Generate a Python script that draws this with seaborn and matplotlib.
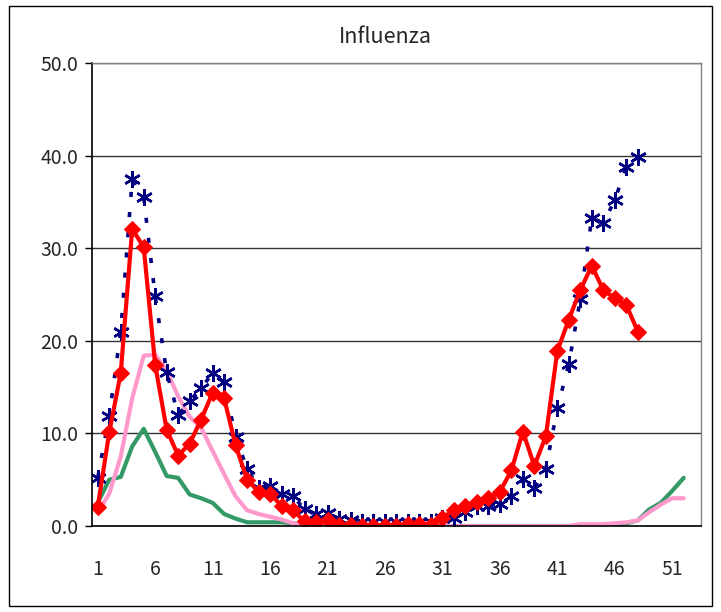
import numpy as np
import pandas as pd
import matplotlib
matplotlib.use("Agg")
import matplotlib.pyplot as plt
from matplotlib.patches import Rectangle
import seaborn as sns

# weekly values
weeks = list(range(1, 53))

blue_vals = [5.2, 11.9, 21.0, 37.5, 35.5, 24.8, 16.6, 12.0, 13.5, 14.9,
             16.5, 15.5, 9.6, 6.2, 4.1, 4.3, 3.5, 3.2, 1.8, 1.3,
             1.4, 0.8, 0.6, 0.4, 0.4, 0.4, 0.4, 0.4, 0.4, 0.4,
             0.9, 0.9, 1.5, 2.2, 2.2, 2.4, 3.2, 5.1, 4.1, 6.2,
             12.7, 17.5, 24.5, 33.3, 32.7, 35.2, 38.8, 39.8]

red_vals = [2.1, 10.1, 16.5, 32.1, 30.1, 17.4, 10.4, 7.6, 8.9, 11.5,
            14.4, 13.8, 8.7, 5.0, 3.7, 3.45, 2.2, 1.7, 0.5, 0.4,
            0.6, 0.1, 0.1, 0.05, 0.05, 0.05, 0.05, 0.2, 0.2, 0.1,
            0.9, 1.7, 2.2, 2.6, 3.0, 3.7, 6.0, 10.2, 6.5, 9.7,
            18.9, 22.3, 25.5, 28.1, 25.5, 24.6, 23.9, 21.0]

pink_vals = [1.4, 3.5, 7.5, 13.8, 18.4, 18.5, 16.8, 14.0, 11.8, 10.6,
             8.1, 5.6, 3.2, 1.7, 1.3, 1.0, 0.7, 0.3, 0.1, 0.0,
             0.0, 0.0, 0.0, 0.0, 0.0, 0.0, 0.0, 0.0, 0.0, 0.0,
             0.0, 0.0, 0.0, 0.0, 0.0, 0.0, 0.0, 0.0, 0.0, 0.0,
             0.0, 0.0, 0.2, 0.2, 0.2, 0.3, 0.4, 0.6, 1.5, 2.3,
             3.0, 3.0]

green_vals = [2.5, 5.0, 5.3, 8.6, 10.5, 8.0, 5.4, 5.2, 3.4, 3.0,
              2.5, 1.3, 0.8, 0.4, 0.4, 0.4, 0.4, 0.3, 0.1, 0.0,
              0.0, 0.0, 0.0, 0.0, 0.0, 0.0, 0.0, 0.0, 0.0, 0.0,
              0.0, 0.0, 0.0, 0.0, 0.0, 0.0, 0.0, 0.0, 0.0, 0.0,
              0.0, 0.0, 0.0, 0.0, 0.0, 0.2, 0.3, 0.6, 1.8, 2.5,
              3.8, 5.2]

x_labels = [1, 6, 11, 16, 21, 26, 31, 36, 41, 46, 51]
y_ticks = [0, 10, 20, 30, 40, 50]

sns.set_style("white")
plt.rcParams['font.family'] = ['Noto Sans CJK JP', 'DejaVu Sans']

fig = plt.figure(figsize=(7.21, 6.12), dpi=100)
ax = fig.add_axes([0.1276, 0.1405, 0.8446, 0.7565])

# outer chart border
fig.patches.append(Rectangle((9 / 721, 6 / 612), 703 / 721, 600 / 612,
                             transform=fig.transFigure, fill=False,
                             edgecolor='black', linewidth=1))

sns.lineplot(x=weeks, y=green_vals, ax=ax, color='#339966', linewidth=3)
sns.lineplot(x=weeks, y=pink_vals, ax=ax, color='#FF99CC', linewidth=3)
sns.lineplot(x=weeks[:48], y=blue_vals, ax=ax, color='#000080', linewidth=2.6,
             linestyle=(0, (1.4, 4.2)), marker=(6, 2, 0), markersize=12,
             markeredgewidth=1.8, markeredgecolor='#000080')
sns.lineplot(x=weeks[:48], y=red_vals, ax=ax, color='#FF0000', linewidth=3,
             marker='D', markersize=8, markeredgecolor='#FF0000')

ax.set_xlim(0.5, 53.5)
ax.set_ylim(0, 50)
ax.set_yticks(y_ticks)
ax.set_yticklabels([f"{v:.1f}" for v in y_ticks], fontsize=14)
ax.set_xticks(x_labels)
ax.set_xticklabels([str(v) for v in x_labels], fontsize=14)
ax.set_xticks(np.arange(0.5, 54, 5), minor=True)
ax.tick_params(axis='x', which='major', length=0, pad=24)
ax.tick_params(axis='x', which='minor', direction='in', length=6,
               width=1, color='black')
ax.tick_params(axis='y', which='major', direction='out', length=5,
               width=1, color='black', left=True, pad=5)

ax.grid(axis='y', color='#333333', linewidth=1)
ax.set_axisbelow(True)
for side in ['top', 'right']:
    ax.spines[side].set_color('#808080')
    ax.spines[side].set_linewidth(1)
for side in ['left', 'bottom']:
    ax.spines[side].set_color('black')
    ax.spines[side].set_linewidth(1.2)

ax.set_xlabel("")
ax.set_ylabel("")
fig.text(0.535, 0.94, "Influenza", ha='center', va='center', fontsize=15.5)

fig.savefig("out.png", dpi=100)
